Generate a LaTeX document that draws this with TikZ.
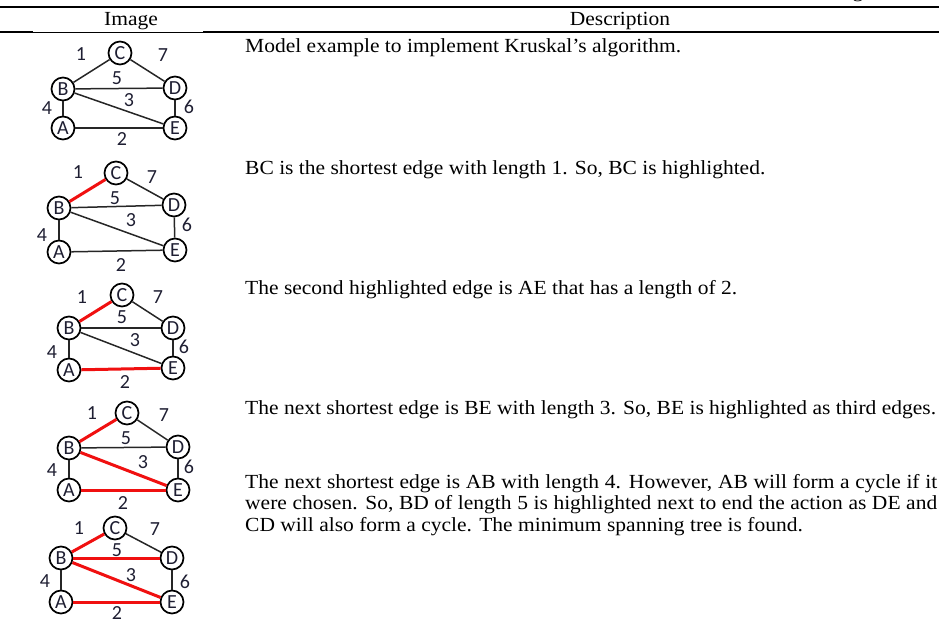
\documentclass[tikz,border=0pt]{standalone}
\usepackage{fontspec}
\setmainfont[FakeStretch=1.075]{Liberation Serif}
\newfontfamily\calfont{Carlito}
\definecolor{txtc}{HTML}{1E1E32}
\definecolor{hlred}{HTML}{F01010}
\tikzset{
  vtx/.style={circle, draw=black, line width=1.7pt, fill=white, minimum size=23pt, inner sep=0pt,
    font=\calfont\fontsize{20}{20}\selectfont, text=txtc},
  wlab/.style={font=\calfont\fontsize{20}{20}\selectfont, text=txtc, inner sep=0pt},
  ed/.style={line width=1.5pt, draw=black!85},
  hl/.style={line width=3pt, draw=hlred},
  desc/.style={font=\fontsize{20}{21.6}\selectfont, anchor=base west, inner sep=0pt, align=left},
  hdr/.style={font=\fontsize{20}{21.6}\selectfont, anchor=base, inner sep=0pt}
}
\begin{document}
\begin{tikzpicture}[x=1pt,y=-1pt]
\useasboundingbox (0,0) rectangle (939,628);
% caption fragment and rules
\node[hdr] (cap) at (858,-2) {g};
\draw[line width=2pt] (0,7) -- (939,7);
\draw[line width=2pt] (0,32) -- (33,32);
\draw[line width=0.8pt] (33,32) -- (203,32);
\draw[line width=2pt] (203,32) -- (939,32);
\node[hdr] (h1) at (131,25.5) {Image};
\node[hdr] (h2) at (620,25.5) {Description};

% ---------- graph 1 ----------
\node[vtx] (aC) at (120,53) {C};
\node[vtx] (aB) at (63,89) {B};
\node[vtx] (aD) at (175,88) {D};
\node[vtx] (aA) at (63,128) {A};
\node[vtx] (aE) at (175,128) {E};
\draw[ed] (aB) -- (aC);
\draw[ed] (aC) -- (aD);
\draw[ed] (aB) -- (aD);
\draw[ed] (aB) -- (aE);
\draw[ed] (aB) -- (aA);
\draw[ed] (aD) -- (aE);
\draw[ed] (aA) -- (aE);
\node[wlab] (a1) at (81,54) {1};
\node[wlab] (a7) at (163,55) {7};
\node[wlab] (a5) at (117,78) {5};
\node[wlab] (a3) at (129,100) {3};
\node[wlab] (a4) at (47,108) {4};
\node[wlab] (a6) at (189,107) {6};
\node[wlab] (a2) at (122,139) {2};

% ---------- graph 2 ----------
\node[vtx] (bC) at (116,173) {C};
\node[vtx] (bB) at (59,208) {B};
\node[vtx] (bD) at (174,205) {D};
\node[vtx] (bA) at (59,252) {A};
\node[vtx] (bE) at (175,250) {E};
\draw[hl] (bB) -- (bC);
\draw[ed] (bC) -- (bD);
\draw[ed] (bB) -- (bD);
\draw[ed] (bB) -- (bE);
\draw[ed] (bB) -- (bA);
\draw[ed] (bD) -- (bE);
\draw[ed] (bA) -- (bE);
\node[wlab] (b1) at (78,172) {1};
\node[wlab] (b7) at (152,177) {7};
\node[wlab] (b5) at (115,198) {5};
\node[wlab] (b3) at (131,220) {3};
\node[wlab] (b4) at (42,235) {4};
\node[wlab] (b6) at (187,225) {6};
\node[wlab] (b2) at (121,265) {2};

% ---------- graph 3 ----------
\node[vtx] (cC) at (122,295) {C};
\node[vtx] (cB) at (69,328) {B};
\node[vtx] (cD) at (173,328) {D};
\node[vtx] (cA) at (69,370) {A};
\node[vtx] (cE) at (173,368) {E};
\draw[hl] (cB) -- (cC);
\draw[ed] (cC) -- (cD);
\draw[ed] (cB) -- (cD);
\draw[ed] (cB) -- (cE);
\draw[ed] (cB) -- (cA);
\draw[ed] (cD) -- (cE);
\draw[hl] (cA) -- (cE);
\node[wlab] (c1) at (82,297) {1};
\node[wlab] (c7) at (158,297) {7};
\node[wlab] (c5) at (122,317) {5};
\node[wlab] (c3) at (135,340) {3};
\node[wlab] (c4) at (52,352) {4};
\node[wlab] (c6) at (184,347) {6};
\node[wlab] (c2) at (125,382) {2};

% ---------- graph 4 ----------
\node[vtx] (dC) at (127,413) {C};
\node[vtx] (dB) at (69,448) {B};
\node[vtx] (dD) at (178,447) {D};
\node[vtx] (dA) at (69,490) {A};
\node[vtx] (dE) at (178,490) {E};
\draw[hl] (dB) -- (dC);
\draw[ed] (dC) -- (dD);
\draw[ed] (dB) -- (dD);
\draw[hl] (dB) -- (dE);
\draw[ed] (dB) -- (dA);
\draw[ed] (dD) -- (dE);
\draw[hl] (dA) -- (dE);
\node[wlab] (d1) at (92,413) {1};
\node[wlab] (d7) at (164,415) {7};
\node[wlab] (d5) at (126,438) {5};
\node[wlab] (d3) at (143,462) {3};
\node[wlab] (d4) at (52,470) {4};
\node[wlab] (d6) at (189,467) {6};
\node[wlab] (d2) at (123,503) {2};

% ---------- graph 5 ----------
\node[vtx] (eC) at (115,528) {C};
\node[vtx] (eB) at (61,558) {B};
\node[vtx] (eD) at (172,558) {D};
\node[vtx] (eA) at (61,602) {A};
\node[vtx] (eE) at (172,602) {E};
\draw[hl] (eB) -- (eC);
\draw[ed] (eC) -- (eD);
\draw[hl] (eB) -- (eD);
\draw[hl] (eB) -- (eE);
\draw[ed] (eB) -- (eA);
\draw[ed] (eD) -- (eE);
\draw[hl] (eA) -- (eE);
\node[wlab] (e1) at (79,528) {1};
\node[wlab] (e7) at (155,529) {7};
\node[wlab] (e5) at (117,550) {5};
\node[wlab] (e3) at (131,575) {3};
\node[wlab] (e4) at (45,581) {4};
\node[wlab] (e6) at (185,582) {6};
\node[wlab] (e2) at (117,613) {2};

% ---------- descriptions ----------
\node[desc] (t1) at (245,52.5) {Model example to implement Kruskal’s algorithm.};
\node[desc] (t2) at (245,174.5) {BC is the shortest edge with length 1. So, BC is highlighted.};
\node[desc] (t3) at (245,294.5) {The second highlighted edge is AE that has a length of 2.};
\node[desc] (t4) at (245,414.5) {The next shortest edge is BE with length 3. So, BE is highlighted as third edges.};
\node[desc] (t5) at (245,531.5) {\makebox[692pt][s]{The next shortest edge is AB with length 4. However, AB will form a cycle if it}\\
\makebox[692pt][s]{were chosen. So, BD of length 5 is highlighted next to end the action as DE and}\\
CD will also form a cycle. The minimum spanning tree is found.};
\end{tikzpicture}
\end{document}
